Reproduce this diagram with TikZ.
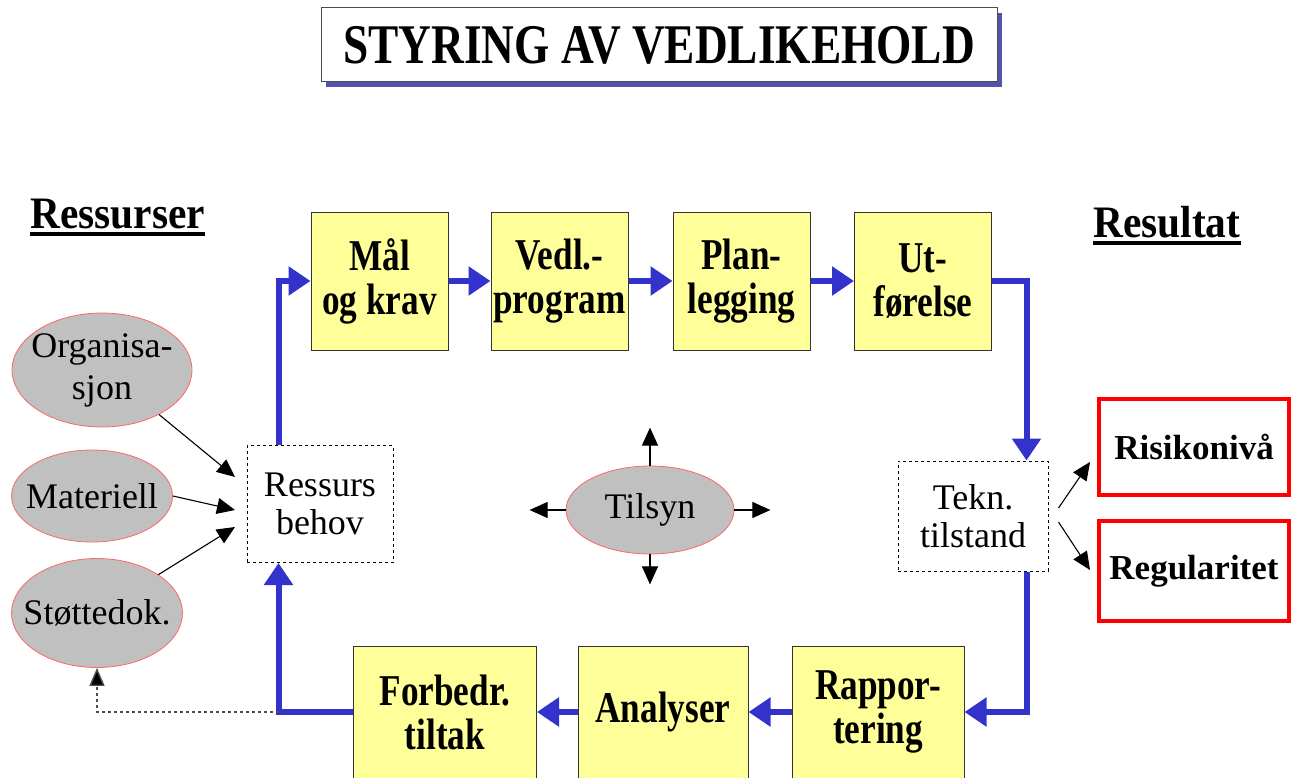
\documentclass[tikz,border=0pt]{standalone}
\usepackage{fontspec}
\setmainfont{Liberation Serif}
\newfontfamily\condfont[FakeStretch=0.8]{Liberation Serif}
\newfontfamily\headfamily[FakeStretch=0.92]{Liberation Serif}
\newfontfamily\titlefamily[FakeStretch=0.81]{Liberation Serif}
\usetikzlibrary{arrows.meta, shapes.geometric, positioning, shadows}

\definecolor{flowblue}{RGB}{51,51,204}
\definecolor{boxyellow}{RGB}{255,255,153}
\definecolor{ovalgray}{RGB}{192,192,192}

\tikzset{
  task/.style={draw=black!80, line width=1pt, fill=boxyellow, minimum width=137pt,
    minimum height=138pt, inner sep=0pt, align=center,
    font=\condfont\bfseries\fontsize{44}{44}\selectfont},
  source/.style={ellipse, draw=red!60, line width=0.8pt, fill=ovalgray,
    inner xsep=-30pt, inner ysep=-20pt, align=center, font=\fontsize{36}{42}\selectfont},
  need/.style={draw, dashed, line width=1pt, inner sep=0pt, align=center,
    font=\fontsize{36}{38}\selectfont},
  outcome/.style={draw=red, line width=4pt, inner sep=0pt, minimum width=190pt,
    font=\bfseries\fontsize{35}{38}\selectfont},
  flow/.style={draw=flowblue, line width=6pt, -{Triangle[length=22pt,width=28pt]}},
  link/.style={line width=1.1pt, -{Triangle[length=18pt,width=16pt]}},
  back/.style={black!70, dashed, line width=1.4pt, -{Triangle[length=18pt,width=15pt,fill=black]}}
}

\begin{document}
\begin{tikzpicture}[x=1pt, y=-1pt]
\useasboundingbox (0,0) rectangle (1300,778);

% title
\node[draw=black!70, line width=1pt, fill=white, minimum width=676pt, minimum height=74pt,
  drop shadow={shadow xshift=5pt, shadow yshift=-5pt, fill=blue!35!gray, opacity=1},
  font=\titlefamily\bfseries\fontsize{56}{56}\selectfont] (title) at (659,45) {STYRING AV VEDLIKEHOLD};

% headers
\node[anchor=base west, inner sep=0pt, font=\headfamily\bfseries\fontsize{45}{45}\selectfont]
  (ressurser) at (30,228) {Ressurser};
\draw[line width=4pt] ([yshift=-6pt]ressurser.base west) -- ([yshift=-6pt]ressurser.base east);
\node[anchor=base west, inner sep=0pt, font=\headfamily\bfseries\fontsize{45}{45}\selectfont]
  (resultat) at (1093,237) {Resultat};
\draw[line width=4pt] ([yshift=-6pt]resultat.base west) -- ([yshift=-6pt]resultat.base east);

% top row
\node[task] (mal) at (379.5,281) {Mål\\og krav};
\node[task] (vedl) at (559.5,281) {Vedl.-\\program};
\node[task] (plan) at (741.5,281) {Plan-\\legging};
\node[task] (utf) at (923,281) {Ut-\\førelse};

% bottom row
\node[task, minimum width=183pt, minimum height=132pt] (forb) at (445,712) {Forbedr.\\tiltak};
\node[task, minimum width=170pt, minimum height=132pt] (anal) at (663,712) {Analyser};
\node[task, minimum width=172pt, minimum height=132pt] (rapp) at (878,712) {Rappor-\\tering};

% resources
\node[source, minimum width=180pt, minimum height=114pt] (org) at (102,370) {Organisa-\\sjon};
\node[source, minimum width=161pt, minimum height=92pt] (mat) at (92,496) {Materiell};
\node[source, minimum width=171pt, minimum height=109pt] (stotte) at (97,613) {Støttedok.};

\node[need, minimum width=146pt, minimum height=117pt] (res) at (320,504) {Ressurs\\behov};
\node[need, minimum width=150pt, minimum height=110pt] (tekn) at (973,516) {Tekn.\\tilstand};

% supervision
\node[source, minimum width=168pt, minimum height=88pt] (tils) at (650,510) {Tilsyn};

% results
\node[outcome, minimum height=96pt] (risk) at (1194,447) {Risikonivå};
\node[outcome, minimum height=100pt] (regu) at (1194,571) {Regularitet};

% main loop
\draw[flow] ([xshift=32pt]res.north west) |- (mal.west);
\draw[flow] (mal) -- (vedl);
\draw[flow] (vedl) -- (plan);
\draw[flow] (plan) -- (utf);
\draw[flow] (utf.east) -| ([xshift=-22pt]tekn.north east);
\draw[flow] ([xshift=-22pt]tekn.south east) |- (rapp.east);
\draw[flow] (rapp) -- (anal);
\draw[flow] (anal) -- (forb);
\path ([xshift=32pt]res.south west) coordinate (resfoot);
\draw[flow] (forb.west) -| (resfoot);
\draw[back] (resfoot |- forb.west) -| (stotte.south);

% inputs
\coordinate (inA) at (235,477);
\coordinate (inB) at (235,510);
\coordinate (inC) at (235,527);
\draw[link] (org.-38) -- (inA);
\draw[link] (mat.east) -- (inB);
\draw[link] (stotte.32) -- (inC);

% outputs
\coordinate (outA) at (1090,462);
\coordinate (outB) at (1090,570);
\draw[link] ([xshift=10pt,yshift=8pt]tekn.east) -- (outA);
\draw[link] ([xshift=10pt,yshift=-6pt]tekn.east) -- (outB);

% Tilsyn arrows
\draw[link] (tils.north) -- ++(0,-38);
\draw[link] (tils.south) -- ++(0,30);
\draw[link] (tils.west) -- ++(-36,0);
\draw[link] (tils.east) -- ++(36,0);
\end{tikzpicture}
\end{document}
